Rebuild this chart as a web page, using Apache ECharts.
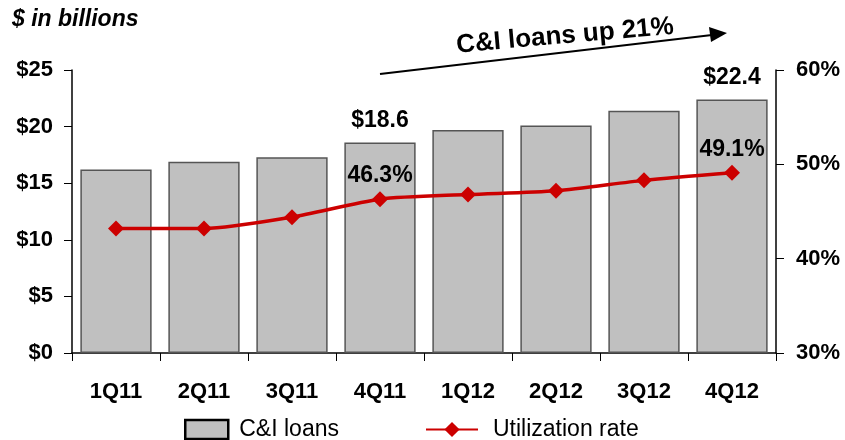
<!DOCTYPE html>
<html>
<head>
<meta charset="utf-8">
<script src="https://cdn.jsdelivr.net/npm/echarts@6/dist/echarts.min.js"></script>
<style>
  html, body { margin: 0; padding: 0; background: #fff; }
  #chart { width: 845px; height: 440px; }
</style>
</head>
<body>
<div id="chart"></div>
<script>
// Quarterly commercial & industrial loan balances and utilization
const quarters = ['1Q11', '2Q11', '3Q11', '4Q11', '1Q12', '2Q12', '3Q12', '4Q12'];
const loans = [16.2, 16.9, 17.3, 18.6, 19.7, 20.1, 21.4, 22.4];          // $ in billions
const utilization = [43.2, 43.2, 44.4, 46.3, 46.8, 47.2, 48.3, 49.1];   // percent
const loanLabelIdx = [3, 7];
const rateLabelIdx = [3, 7];
const leftTicks = { min: 0, max: 25, step: 5 };
const rightTicks = { min: 30, max: 60, step: 10 };

const FONT = 'Liberation Sans, Arial, sans-serif';
const chart = echarts.init(document.getElementById('chart'));

chart.setOption({
  animation: false,
  textStyle: { fontFamily: FONT },
  grid: { left: 72, right: 69, top: 70, bottom: 87 },
  legend: [
    {
      left: 184, top: 418,
      itemWidth: 43, itemHeight: 19, itemGap: 0, padding: 0,
      textStyle: { fontSize: 23, color: '#000', fontFamily: FONT, padding: [0, 0, 0, 6] },
      data: [{ name: 'C&I loans', icon: 'rect', itemStyle: { color: '#c0c0c0', borderColor: '#000', borderWidth: 2.5 } }]
    },
    {
      left: 425, top: 418,
      itemWidth: 52, itemHeight: 19, itemGap: 0, padding: 0,
      textStyle: { fontSize: 23, color: '#000', fontFamily: FONT, padding: [0, 0, 0, 10] },
      data: [{ name: 'Utilization rate' }]
    }
  ],
  xAxis: {
    type: 'category',
    data: quarters,
    axisLine: { lineStyle: { color: '#000', width: 1.5 } },
    axisTick: { show: true, length: 8, lineStyle: { color: '#000' } },
    axisLabel: { color: '#000', fontSize: 22, fontWeight: 'bold', margin: 28 }
  },
  yAxis: [
    {
      type: 'value',
      min: leftTicks.min, max: leftTicks.max, interval: leftTicks.step,
      splitLine: { show: false },
      axisLine: { show: true, lineStyle: { color: '#000', width: 1.5 } },
      axisTick: { show: true, length: 8, lineStyle: { color: '#000' } },
      axisLabel: { color: '#000', fontSize: 22, fontWeight: 'bold', margin: 19, formatter: v => '$' + v }
    },
    {
      type: 'value',
      min: rightTicks.min, max: rightTicks.max, interval: rightTicks.step,
      position: 'right',
      splitLine: { show: false },
      axisLine: { show: true, lineStyle: { color: '#000', width: 1.5 } },
      axisTick: { show: true, length: 8, lineStyle: { color: '#000' } },
      axisLabel: { color: '#000', fontSize: 22, fontWeight: 'bold', margin: 20, formatter: v => v + '%' }
    }
  ],
  series: [
    {
      name: 'C&I loans',
      type: 'bar',
      yAxisIndex: 0,
      barCategoryGap: '19%',
      itemStyle: { color: '#c0c0c0', borderColor: '#555', borderWidth: 1.5 },
      data: loans.map((v, i) => ({
        value: v,
        label: {
          show: loanLabelIdx.includes(i),
          position: 'top',
          distance: 10,
          formatter: '$' + v.toFixed(1),
          color: '#000', fontSize: 23, fontWeight: 'bold'
        }
      }))
    },
    {
      name: 'Utilization rate',
      type: 'line',
      yAxisIndex: 1,
      smooth: 0.25,
      symbol: 'diamond',
      symbolSize: 16,
      lineStyle: { color: '#cc0000', width: 3.5 },
      itemStyle: { color: '#cc0000' },
      data: utilization.map((v, i) => ({
        value: v,
        label: {
          show: rateLabelIdx.includes(i),
          position: 'top',
          distance: 4,
          formatter: v.toFixed(1) + '%',
          color: '#000', fontSize: 23, fontWeight: 'bold'
        }
      }))
    }
  ],
  graphic: [
    {
      type: 'text',
      left: 12, top: 8,
      style: { text: '$ in billions', font: 'italic bold 23px ' + FONT, fill: '#000' }
    },
    {
      type: 'line',
      shape: { x1: 380, y1: 74, x2: 712, y2: 35 },
      style: { stroke: '#000', lineWidth: 2 }
    },
    {
      type: 'polygon',
      shape: { points: [[727, 33], [709, 27], [711, 42]] },
      style: { fill: '#000' }
    },
    {
      type: 'text',
      x: 565, y: 36,
      rotation: 5.0 * Math.PI / 180,
      style: {
        text: 'C&I loans up 21%',
        font: 'bold 26px ' + FONT,
        fill: '#000',
        align: 'center',
        verticalAlign: 'middle'
      }
    }
  ]
});
</script>
</body>
</html>
